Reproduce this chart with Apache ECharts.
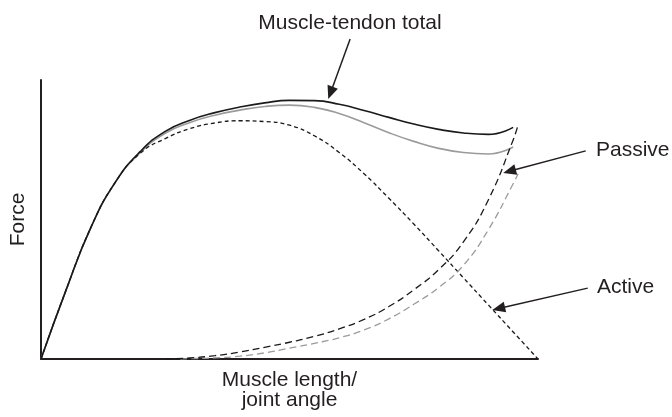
<!DOCTYPE html>
<html>
<head>
<meta charset="utf-8">
<script src="https://cdn.jsdelivr.net/npm/echarts@6/dist/echarts.min.js"></script>
<style>html,body{margin:0;padding:0;background:#fff;}#c{width:672px;height:417px;}</style>
</head>
<body>
<div id="c"></div>
<script>
// Data (arbitrary units 0-100)
const xMain = [0,5,10,15,20,25,30,35,40,45,50,55,60,65,70,75,80,85,90,95];
const totalBlack = [0,24.5,47.0,63.5,74.4,81.6,85.6,88.3,90.3,91.8,92.7,92.6,91.3,89.1,86.6,84.2,82.3,81.0,80.5,83.0];
const totalGray  = [0,24.5,47.0,63.5,74.0,80.9,84.8,87.4,89.2,90.5,91.0,90.2,88.0,84.7,81.1,78.0,75.5,74.0,73.5,76.0];
const xActive = [0,5,10,15,20,25,30,35,40,45,50,55,60,65,70,75,80,85,90,95,100];
const active = [0,24.5,47.0,63.5,73.8,79.0,82.6,84.6,85.4,85.1,83.8,80.0,74.0,66.4,57.6,48.4,38.8,29.1,19.4,9.7,0];
const xPassiveBlack = [25,30,35,40,45,50,55,60,65,70,75,80,85,90,95,96];
const passiveBlack = [0,0.4,1.2,2.5,4.2,6.0,8.1,10.8,14.2,18.8,24.8,32.0,42.0,57.0,78.5,84.0];
const xPassiveGray = [28,30,35,40,45,50,55,60,65,70,75,80,85,90,95,96];
const passiveGray = [0,0.1,0.4,1.0,2.2,3.9,5.6,7.6,10.4,14.4,19.6,25.6,33.6,46.3,62.8,66.4];

const labels = {x: 'Muscle length/\njoint angle', y: 'Force'};
// Annotations: text + arrow from tail to tip (data coordinates)
const annotations = [
  {text: 'Muscle-tendon total', tail: [62.2, 114.7], tip: [57.8, 93.2]},
  {text: 'Passive', tail: [109.6, 74.6], tip: [93.0, 66.7]},
  {text: 'Active', tail: [110.0, 25.4], tip: [90.8, 17.6]}
];

const zip = (xs, ys) => xs.map((x, i) => [x, ys[i]]);
const FONT = "'Liberation Sans', Arial, sans-serif";
const TXT = '#231f20';

const chart = echarts.init(document.getElementById('c'), null, {renderer: 'canvas'});
function lineSeries(data, color, width, type) {
  return {type: 'line', data, smooth: 0.5, showSymbol: false, symbol: 'none', silent: true,
    lineStyle: {color, width, type}, z: 3};
}
chart.setOption({
  animation: false,
  backgroundColor: '#fff',
  grid: {left: 40, right: 134, top: 80, bottom: 58},
  xAxis: {type: 'value', min: 0, max: 100,
    axisLine: {show: true, lineStyle: {color: TXT, width: 2}},
    axisTick: {show: false}, axisLabel: {show: false}, splitLine: {show: false},
    name: labels.x, nameLocation: 'middle', nameGap: 11,
    nameTextStyle: {fontFamily: FONT, fontSize: 21, color: TXT, lineHeight: 20, verticalAlign: 'top'}},
  yAxis: {type: 'value', min: 0, max: 100,
    axisLine: {show: true, lineStyle: {color: TXT, width: 2}},
    axisTick: {show: false}, axisLabel: {show: false}, splitLine: {show: false},
    name: labels.y, nameLocation: 'middle', nameGap: 12,
    nameTextStyle: {fontFamily: FONT, fontSize: 21, color: TXT}},
  series: [
    lineSeries(zip(xMain, totalGray), '#9b9b9b', 1.6, 'solid'),
    lineSeries(zip(xMain, totalBlack), '#1a1a1a', 1.6, 'solid'),
    lineSeries(zip(xActive, active), '#1a1a1a', 1.3, [4, 3]),
    lineSeries(zip(xPassiveGray, passiveGray), '#9b9b9b', 1.3, [7, 4]),
    lineSeries(zip(xPassiveBlack, passiveBlack), '#1a1a1a', 1.3, [7, 4])
  ]
});

// Build annotation graphics
const graphics = [];
const textPos = [
  {x: 350, y: 23, align: 'center'},
  {x: 596, y: 150, align: 'left'},
  {x: 597, y: 287, align: 'left'}
];
annotations.forEach((a, i) => {
  const t = chart.convertToPixel({gridIndex: 0}, a.tail);
  const p = chart.convertToPixel({gridIndex: 0}, a.tip);
  const dx = p[0] - t[0], dy = p[1] - t[1];
  const len = Math.sqrt(dx * dx + dy * dy);
  const ux = dx / len, uy = dy / len;
  const hl = 13, hw = 5.5;
  const bx = p[0] - ux * hl, by = p[1] - uy * hl;
  graphics.push({type: 'line', z: 10, shape: {x1: t[0], y1: t[1], x2: bx + ux * 2, y2: by + uy * 2},
    style: {stroke: TXT, lineWidth: 1.5}});
  graphics.push({type: 'polygon', z: 10, shape: {points: [
    [p[0], p[1]], [bx - uy * hw, by + ux * hw], [bx + uy * hw, by - ux * hw]]},
    style: {fill: TXT}});
  graphics.push({type: 'text', z: 10, x: textPos[i].x, y: textPos[i].y,
    style: {text: a.text, font: '21px ' + FONT, fill: TXT, align: textPos[i].align, verticalAlign: 'middle'}});
});
chart.setOption({graphic: graphics});
</script>
</body>
</html>
